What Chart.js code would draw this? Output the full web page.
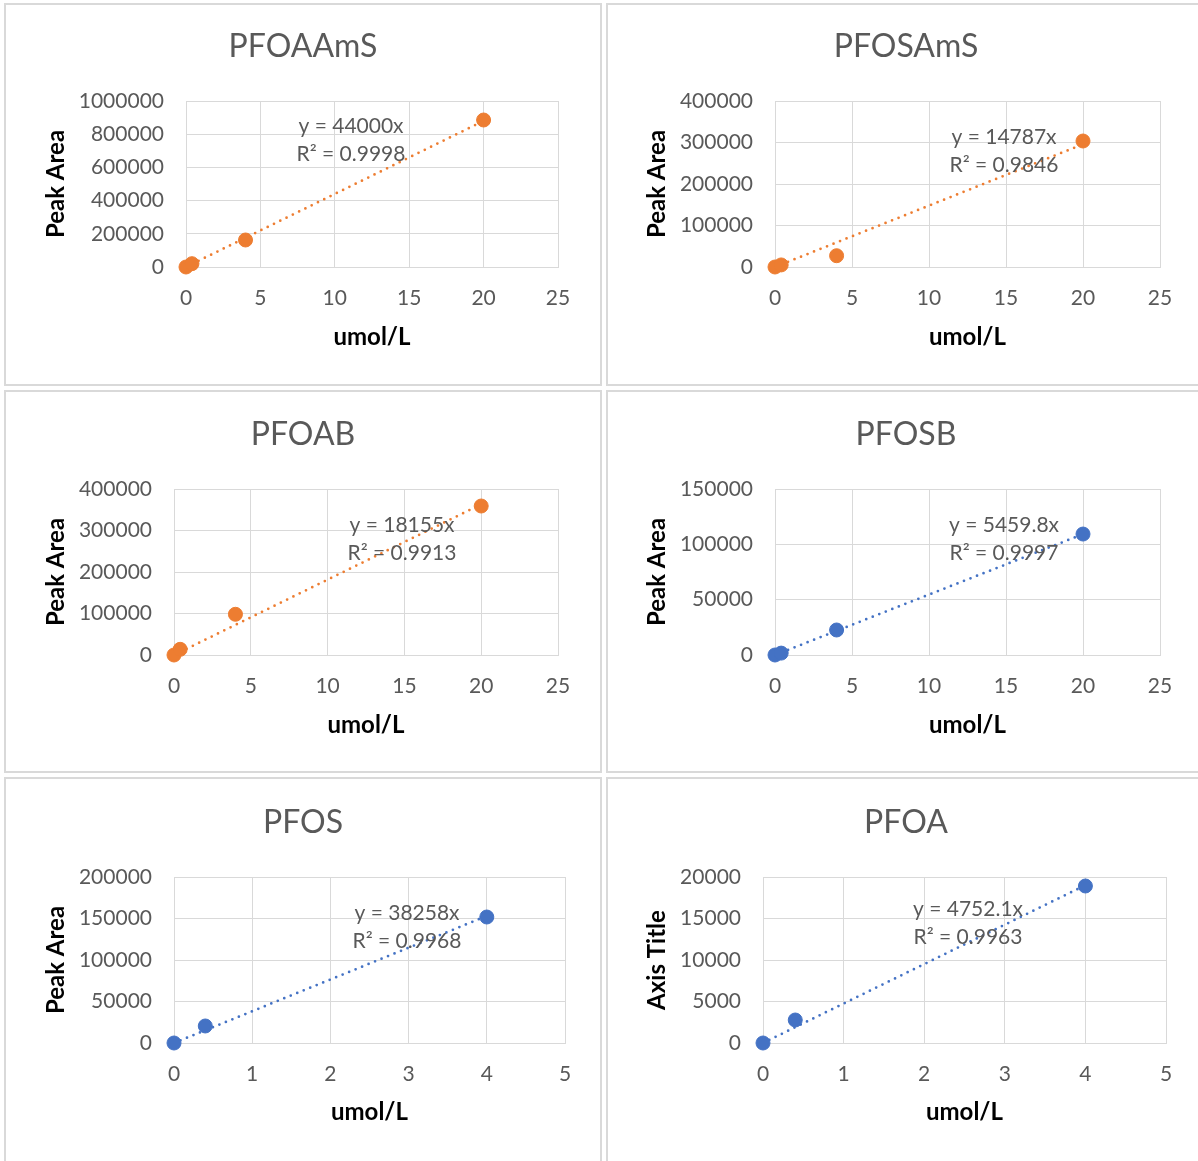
<!DOCTYPE html>
<html>
<head>
<meta charset="utf-8">
<title>Calibration curves</title>
<script src="https://cdn.jsdelivr.net/npm/chart.js@4/dist/chart.umd.min.js"></script>
<style>
  html, body { margin: 0; padding: 0; background: #fff; }
  body { width: 1198px; height: 1161px; position: relative; overflow: hidden; }
  .panel { position: absolute; box-sizing: border-box; border: 2px solid #d9d9d9; }
  canvas { position: absolute; }
</style>
</head>
<body>
<script>
// ---- data ----
const compounds = ['PFOAAmS', 'PFOSAmS', 'PFOAB', 'PFOSB', 'PFOS', 'PFOA'];
const concLong = [0, 0.4, 4, 20];     // umol/L
const concShort = [0, 0.4, 4];        // umol/L
const areaPFOAAmS = [0, 20000, 162700, 885500];
const areaPFOSAmS = [0, 5000, 27200, 303600];
const areaPFOAB = [0, 13700, 98100, 359000];
const areaPFOSB = [0, 1700, 22600, 109300];
const areaPFOS = [0, 20500, 151800];
const areaPFOA = [0, 2770, 18916];
const concs = [concLong, concLong, concLong, concLong, concShort, concShort];
const areas = [areaPFOAAmS, areaPFOSAmS, areaPFOAB, areaPFOSB, areaPFOS, areaPFOA];
const slopes = [44000, 14787, 18155, 5459.8, 38258, 4752.1];
const rSquared = [0.9998, 0.9846, 0.9913, 0.9997, 0.9968, 0.9963];
const yTitles = ['Peak Area', 'Peak Area', 'Peak Area', 'Peak Area', 'Peak Area', 'Axis Title'];
const xTitle = 'umol/L';
const yMax = [1000000, 400000, 400000, 150000, 200000, 20000];
const yStep = [200000, 100000, 100000, 50000, 50000, 5000];
const xMax = [25, 25, 25, 25, 5, 5];
const xStep = [5, 5, 5, 5, 1, 1];

// ---- layout (page pixels) ----
const ORANGE = '#ED7D31';
const BLUE = '#4472C4';
const seriesColors = [ORANGE, ORANGE, ORANGE, BLUE, BLUE, BLUE];
// panel boxes: [left, top, width, height]
const panels = [
  [4, 3, 598, 383], [606, 3, 600, 383],
  [4, 390, 598, 383], [606, 390, 600, 383],
  [4, 777, 598, 386], [606, 777, 600, 386]
];
// plot areas: [left, top, right, bottom]
const plots = [
  [186, 101, 558, 267], [775, 101, 1160, 267],
  [174, 489, 558, 655], [775, 489, 1160, 655],
  [174, 877, 565, 1043], [763, 877, 1166, 1043]
];
const yTitleX = [56, 657, 56, 657, 56, 657];
const xTitleY = [337, 337, 725, 725, 1112, 1112];
const chartTitleY = [47, 47, 435, 435, 823, 823];
// trendline label centres: [x, first line y]
const eqPos = [[351, 126], [1004, 137], [402, 525], [1004, 525], [407, 913], [968, 909]];

const FONT = 'Lato, "Open Sans", sans-serif';
const GREY_TEXT = '#595959';
const GRID = '#d9d9d9';
const TITLE_SIZE = 32;
const AXIS_TITLE_SIZE = 24;
const TICK_SIZE = 21;
const LABEL_SIZE = 21;

const textPlugin = {
  id: 'panelText',
  afterDraw(chart) {
    const i = chart.options.panelIndex;
    const [px, py] = chart.options.panelOrigin;
    const ctx = chart.ctx;
    ctx.save();
    ctx.fillStyle = GREY_TEXT;
    ctx.textAlign = 'center';
    ctx.textBaseline = 'middle';
    ctx.font = TITLE_SIZE + 'px ' + FONT;
    ctx.fillText(compounds[i], chart.width / 2, chartTitleY[i] - py);
    ctx.font = LABEL_SIZE + 'px ' + FONT;
    const [ex, ey] = eqPos[i];
    ctx.fillText('y = ' + slopes[i] + 'x', ex - px, ey - py);
    ctx.fillText('R\u00B2 = ' + rSquared[i], ex - px, ey - py + 28);
    ctx.restore();
  }
};

compounds.forEach((name, i) => {
  const [px, py, pw, ph] = panels[i];
  const div = document.createElement('div');
  div.className = 'panel';
  Object.assign(div.style, { left: px + 'px', top: py + 'px', width: pw + 'px', height: ph + 'px' });
  document.body.appendChild(div);

  const cx = px + 2, cy = py + 2, cw = pw - 4, ch = ph - 4;
  const canvas = document.createElement('canvas');
  canvas.width = cw; canvas.height = ch;
  Object.assign(canvas.style, { left: cx + 'px', top: cy + 'px', width: cw + 'px', height: ch + 'px' });
  document.body.appendChild(canvas);

  const [L, T, R, B] = plots[i];
  const color = seriesColors[i];
  const xs = concs[i];
  const xLast = xs[xs.length - 1];
  const titleFont = { family: FONT, size: AXIS_TITLE_SIZE, weight: 'bold' };
  const tickFont = { family: FONT, size: TICK_SIZE };
  const lh = AXIS_TITLE_SIZE * 1.2;
  const tlh = TICK_SIZE * 1.2;

  new Chart(canvas.getContext('2d'), {
    type: 'scatter',
    data: {
      datasets: [
        {
          type: 'line',
          data: [{ x: 0, y: 0 }, { x: xLast, y: slopes[i] * xLast }],
          borderColor: color,
          borderWidth: 2.75,
          borderDash: [0, 7],
          borderCapStyle: 'round',
          pointRadius: 0,
          fill: false,
          clip: false,
          order: 2
        },
        {
          data: xs.map((x, j) => ({ x, y: areas[i][j] })),
          backgroundColor: color,
          borderColor: color,
          pointRadius: 7,
          pointHoverRadius: 7,
          clip: false,
          order: 1
        }
      ]
    },
    options: {
      panelIndex: i,
      panelOrigin: [cx, cy],
      responsive: false,
      animation: false,
      events: [],
      layout: { padding: { left: 0, top: T - cy, right: cw - (R - cx), bottom: 0 } },
      plugins: { legend: { display: false }, tooltip: { enabled: false }, title: { display: false } },
      scales: {
        x: {
          type: 'linear', min: 0, max: xMax[i],
          ticks: { stepSize: xStep[i], color: GREY_TEXT, font: tickFont, padding: 31 - tlh / 2, callback: v => String(v) },
          grid: { color: GRID, drawTicks: false },
          border: { color: GRID },
          title: { display: true, text: xTitle, color: '#000', font: titleFont,
                   padding: { top: 0, bottom: (cy + ch) - xTitleY[i] - lh / 2 } },
          afterFit(s) { s.height = (cy + ch) - B; }
        },
        y: {
          type: 'linear', min: 0, max: yMax[i],
          ticks: { stepSize: yStep[i], color: GREY_TEXT, font: tickFont, padding: 22, callback: v => String(v) },
          grid: { color: GRID, drawTicks: false },
          border: { color: GRID },
          title: { display: true, text: yTitles[i], color: '#000', font: titleFont,
                   padding: { top: yTitleX[i] - cx - lh / 2, bottom: 0 } },
          afterFit(s) { s.width = L - cx; }
        }
      }
    },
    plugins: [textPlugin]
  });
});
</script>
</body>
</html>
